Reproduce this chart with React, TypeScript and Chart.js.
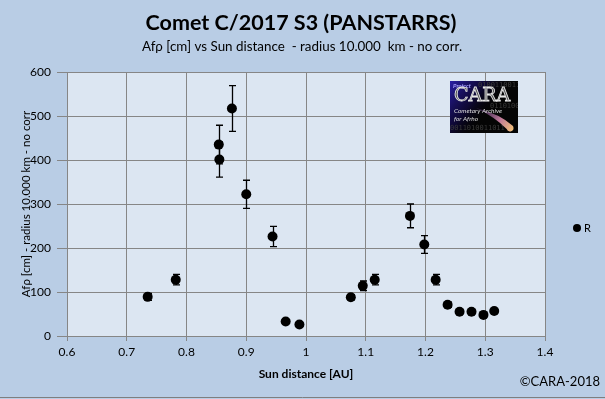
import React, { useEffect, useRef } from "react";
import { Chart, registerables } from "chart.js";

Chart.register(...registerables);

const sunDistance = [0.735, 0.782, 0.854, 0.855, 0.876, 0.9, 0.944, 0.966, 0.989, 1.075, 1.095, 1.115, 1.174, 1.198, 1.217, 1.237, 1.257, 1.277, 1.297, 1.315];
const afrho = [89, 128, 435, 401, 517, 322, 226, 33, 26, 88, 114, 128, 273, 208, 128, 71, 55, 55, 48, 57];
const afrhoErr = [8, 12, 44, 40, 52, 32, 23, 4, 3, 6, 11, 12, 27, 20, 12, 6, 4, 4, 3, 4];
const seriesName = "R";
const titleText = "Comet C/2017 S3 (PANSTARRS)";
const subtitleText = "Afρ [cm] vs Sun distance  - radius 10.000  km - no corr.";
const xTitle = "Sun distance [AU]";
const yTitle = "Afρ [cm] - radius 10.000 km - no corr";
const copyright = "©CARA-2018";

const FONT = "Lato, 'Open Sans', sans-serif";
const OUTER = "#b9cde5";
const PLOT = "#dce6f2";
const GRID = "#868686";

const bgPlugin = {
  id: "bg",
  beforeDraw(chart: any) {
    const { ctx, chartArea: a, width, height } = chart;
    ctx.save();
    ctx.fillStyle = OUTER;
    ctx.fillRect(0, 0, width, height);
    ctx.fillStyle = PLOT;
    ctx.fillRect(a.left, a.top, a.right - a.left, a.bottom - a.top);
    ctx.strokeStyle = "#7f7f7f";
    ctx.lineWidth = 1;
    ctx.beginPath();
    ctx.moveTo(0, height - 1.5);
    ctx.lineTo(width, height - 1.5);
    ctx.stroke();
    ctx.restore();
  },
};

const errPlugin = {
  id: "errbars",
  afterDatasetsDraw(chart: any) {
    const { ctx, scales } = chart;
    const xs = scales.x;
    const ys = scales.y;
    ctx.save();
    ctx.strokeStyle = "#000";
    ctx.lineWidth = 1.3;
    sunDistance.forEach((xv, i) => {
      const px = Math.round(xs.getPixelForValue(xv)) + 0.5;
      const top = ys.getPixelForValue(afrho[i] + afrhoErr[i]);
      const bot = ys.getPixelForValue(afrho[i] - afrhoErr[i]);
      ctx.beginPath();
      ctx.moveTo(px, top);
      ctx.lineTo(px, bot);
      ctx.moveTo(px - 3.5, top);
      ctx.lineTo(px + 3.5, top);
      ctx.moveTo(px - 3.5, bot);
      ctx.lineTo(px + 3.5, bot);
      ctx.stroke();
    });
    ctx.restore();
  },
};

const textPlugin = {
  id: "texts",
  afterDraw(chart: any) {
    const { ctx } = chart;
    ctx.save();
    ctx.fillStyle = "#000";
    ctx.textAlign = "center";
    ctx.textBaseline = "middle";
    ctx.font = `bold 21.5px ${FONT}`;
    ctx.fillText(titleText, 301, 23);
    ctx.font = `13.4px ${FONT}`;
    ctx.fillText(subtitleText, 302, 47);
    ctx.font = `bold 12px ${FONT}`;
    ctx.fillText(xTitle, 306, 374);
    ctx.font = `13px ${FONT}`;
    ctx.textAlign = "right";
    ctx.fillText(copyright, 600, 382);
    ctx.save();
    ctx.translate(26, 204);
    ctx.rotate(-Math.PI / 2);
    ctx.textAlign = "center";
    ctx.font = `11.5px ${FONT}`;
    ctx.fillText(yTitle, 0, 0);
    ctx.restore();
    // legend
    ctx.beginPath();
    ctx.arc(577, 228, 4, 0, Math.PI * 2);
    ctx.fill();
    ctx.textAlign = "left";
    ctx.font = `11px ${FONT}`;
    ctx.fillText(seriesName, 584, 228.5);
    ctx.restore();
  },
};

const logoPlugin = {
  id: "logo",
  afterDatasetsDraw(chart: any) {
    const { ctx } = chart;
    const x = 450, y = 81, w = 68, h = 52;
    ctx.save();
    ctx.fillStyle = "#050505";
    ctx.fillRect(x, y, w, h);
    const g = ctx.createLinearGradient(x, y, x + 40, y + 30);
    g.addColorStop(0, "#2a1fa8");
    g.addColorStop(0.6, "rgba(20,10,80,0.6)");
    g.addColorStop(1, "rgba(0,0,0,0)");
    ctx.fillStyle = g;
    ctx.fillRect(x, y, w, h);
    ctx.beginPath();
    ctx.rect(x, y, w, h);
    ctx.clip();
    ctx.fillStyle = "#3a3a3a";
    ctx.font = `7px 'DejaVu Sans Mono', monospace`;
    ctx.textBaseline = "top";
    ctx.fillText("0100110011", x + 28, y + 1);
    ctx.fillText("0110100110", x + 40, y + 22);
    ctx.fillText("0011010011011", x, y + 44);
    const cg = ctx.createLinearGradient(x + 28, y + 28, x + 62, y + 50);
    cg.addColorStop(0, "rgba(120,80,160,0.3)");
    cg.addColorStop(0.6, "#c07a9a");
    cg.addColorStop(1, "#f2c07a");
    ctx.fillStyle = cg;
    ctx.beginPath();
    ctx.moveTo(x + 26, y + 27);
    ctx.quadraticCurveTo(x + 50, y + 33, x + 63, y + 45);
    ctx.arc(x + 60, y + 47, 3.5, -0.2, Math.PI * 0.9);
    ctx.quadraticCurveTo(x + 45, y + 36, x + 26, y + 27);
    ctx.fill();
    ctx.fillStyle = "#a8a0ff";
    ctx.font = `italic bold 6px ${FONT}`;
    ctx.fillText("Project", x + 3, y + 2);
    ctx.font = `19px 'DejaVu Serif', 'Liberation Serif', serif`;
    ctx.strokeStyle = "#e8e8e8";
    ctx.lineWidth = 0.8;
    ctx.fillStyle = "#555";
    ctx.fillText("CARA", x + 4, y + 6);
    ctx.strokeText("CARA", x + 4, y + 6);
    ctx.fillStyle = "#ddd";
    ctx.font = `italic 6.5px ${FONT}`;
    ctx.fillText("Cometary Archive", x + 4, y + 27);
    ctx.fillText("for Afrho", x + 4, y + 35);
    ctx.restore();
  },
};

export default function App() {
  const ref = useRef<HTMLCanvasElement | null>(null);
  useEffect(() => {
    document.body.style.margin = "0";
    const canvas = ref.current!;
    const chart = new Chart(canvas, {
      type: "scatter",
      data: {
        datasets: [
          {
            label: seriesName,
            data: sunDistance.map((x, i) => ({ x, y: afrho[i] })),
            pointRadius: 5,
            pointHoverRadius: 5,
            backgroundColor: "#000",
            borderColor: "#000",
            borderWidth: 0,
          },
        ],
      },
      options: {
        animation: false,
        responsive: false,
        devicePixelRatio: 1,
        layout: { padding: { left: 0, right: 60, top: 72, bottom: 0 } },
        plugins: {
          legend: { display: false },
          title: { display: false },
          tooltip: { enabled: false },
        },
        scales: {
          x: {
            type: "linear",
            min: 0.6,
            max: 1.4,
            ticks: {
              stepSize: 0.1,
              color: "#000",
              font: { family: FONT, size: 12 },
              padding: 4,
              maxRotation: 0,
              callback: (v: any) => String(Math.round(Number(v) * 10) / 10),
            },
            grid: { color: GRID, lineWidth: 1, tickLength: 5 },
            border: { color: GRID, width: 1 },
            afterFit: (s: any) => {
              s.height = 63;
            },
          },
          y: {
            min: 0,
            max: 600,
            ticks: {
              stepSize: 100,
              color: "#000",
              font: { family: FONT, size: 12 },
              padding: 6,
            },
            grid: { color: GRID, lineWidth: 1, tickLength: 10 },
            border: { color: GRID, width: 1 },
            afterFit: (s: any) => {
              s.width = 67;
            },
          },
        },
      },
      plugins: [bgPlugin, errPlugin, logoPlugin, textPlugin],
    });
    return () => chart.destroy();
  }, []);
  return (
    <div style={{ width: 605, height: 399 }}>
      <canvas ref={ref} width={605} height={399} style={{ display: "block" }} />
    </div>
  );
}
